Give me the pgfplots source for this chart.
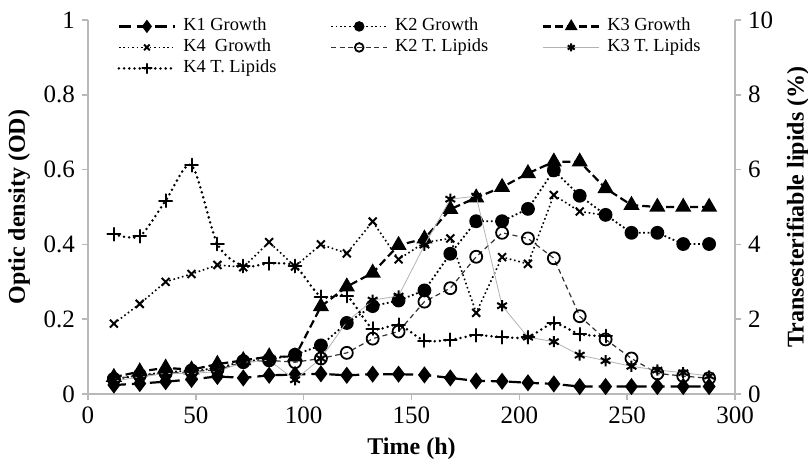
\documentclass[border=0pt]{standalone}
\usepackage{fontspec}
\setmainfont{Liberation Serif}
\usepackage{pgfplots}
\pgfplotsset{compat=1.18}

\newcommand{\tickfont}{\fontsize{12.5}{14}\selectfont}
\newcommand{\labfont}{\fontsize{12}{14}\selectfont\bfseries}
\newcommand{\legfont}{\fontsize{9.2}{11}\selectfont}

\pgfplotsset{
  base/.style={
    scale only axis, width=323.5pt, height=187pt,
    xmin=0, xmax=300,
    axis line style={gray!55, line width=0.8pt},
    tick style={gray!55, line width=0.8pt},
    tick align=outside, major tick length=3pt,
    tick label style={font=\tickfont, black},
    label style={font=\labfont},
    /pgf/number format/assume math mode=true,
    clip=false,
  },
  % growth series
  k1g/.style={black, line width=1.1pt, dash pattern=on 6pt off 3pt, mark=diamond*, mark size=3.4pt, mark options={solid}},
  k2g/.style={black, line width=0.9pt, dash pattern=on 0.9pt off 1.3pt, mark=*, mark size=3pt, mark options={solid}},
  k3g/.style={black, line width=1.1pt, dash pattern=on 4pt off 2pt, mark=triangle*, mark size=3.6pt, mark options={solid}},
  k4g/.style={black, line width=0.8pt, dash pattern=on 0.8pt off 1.4pt, mark=x, mark size=2.8pt, mark options={solid, line width=1pt}},
  % lipid series
  k2l/.style={black!80, line width=0.6pt, dash pattern=on 2.5pt off 1.8pt, mark=o, mark size=3pt, mark options={solid, black, line width=0.9pt}},
  k3l/.style={gray!60, line width=0.4pt, mark=asterisk, mark size=2.8pt, mark options={solid, black, line width=1pt}},
  k4l/.style={black, line width=1.4pt, dash pattern=on 0pt off 2.6pt, line cap=round, smooth, tension=0.45, mark=+, mark size=3.2pt, mark options={solid, line width=1pt}},
}

\begin{document}
\begin{tikzpicture}

\begin{axis}[base,
    axis x line*=bottom, axis y line*=left,
    ymin=0, ymax=1,
    ytick={0,0.2,0.4,0.6,0.8,1},
    xtick={0,50,100,150,200,250,300},
    xlabel={Time (h)},
    ylabel={Optic density (OD)},
]
\addplot[k1g] coordinates {(12,0.024) (24,0.028) (36,0.033) (48,0.039) (60,0.047) (72,0.043) (84,0.050) (96,0.052) (108,0.054) (120,0.050) (132,0.053) (144,0.053) (156,0.051) (168,0.043) (180,0.035) (192,0.034) (204,0.030) (216,0.027) (228,0.020) (240,0.020) (252,0.020) (264,0.020) (276,0.020) (288,0.020)};
\addplot[k2g] coordinates {(12,0.040) (24,0.050) (36,0.058) (48,0.063) (60,0.068) (72,0.088) (84,0.092) (96,0.105) (108,0.130) (120,0.190) (132,0.235) (144,0.250) (156,0.277) (168,0.375) (180,0.462) (192,0.462) (204,0.495) (216,0.598) (228,0.530) (240,0.479) (252,0.431) (264,0.431) (276,0.401) (288,0.401)};
\addplot[k3g] coordinates {(12,0.045) (24,0.060) (36,0.070) (48,0.065) (60,0.080) (72,0.090) (84,0.100) (96,0.100) (108,0.234) (120,0.287) (132,0.324) (144,0.398) (156,0.415) (168,0.494) (180,0.525) (192,0.553) (204,0.590) (216,0.621) (228,0.621) (240,0.550) (252,0.505) (264,0.500) (276,0.500) (288,0.500)};
\addplot[k4g] coordinates {(12,0.188) (24,0.241) (36,0.300) (48,0.321) (60,0.345) (72,0.339) (84,0.406) (96,0.341) (108,0.400) (120,0.376) (132,0.461) (144,0.360) (156,0.405) (168,0.416) (180,0.217) (192,0.366) (204,0.348) (216,0.532) (228,0.488) (240,0.478)};
\end{axis}

\begin{axis}[base,
    axis x line=none, axis y line*=right,
    ymin=0, ymax=10,
    ytick={0,2,4,6,8,10},
    ylabel={Transesterifiable lipids (\%)},
    legend columns=3,
    legend style={at={(axis description cs:0.045,1.012)}, anchor=north west,
      draw=none, fill=none, inner sep=0pt, font=\legfont, row sep=0pt,
      nodes={inner sep=1.5pt, text height=6pt, text depth=1.5pt},
      /tikz/every odd column/.append style={column sep=2pt}},
    legend image code/.code={\draw[mark repeat=2, mark phase=2, #1, every mark/.append style={scale=0.72}] plot coordinates {(0pt,0pt) (14pt,0pt) (28pt,0pt)};},
]
\addlegendimage{k1g}\addlegendentry{\makebox[72pt][l]{K1 Growth}}
\addlegendimage{k2g}\addlegendentry{\makebox[72pt][l]{K2 Growth}}
\addlegendimage{k3g}\addlegendentry{\makebox[72pt][l]{K3 Growth}}
\addlegendimage{k4g}\addlegendentry{\makebox[72pt][l]{K4\ \ Growth}}
\addplot[k2l] coordinates {(12,0.40) (24,0.50) (36,0.55) (48,0.60) (60,0.65) (72,0.85) (84,0.90) (96,0.85) (108,0.95) (120,1.10) (132,1.48) (144,1.67) (156,2.47) (168,2.83) (180,3.67) (192,4.31) (204,4.16) (216,3.63) (228,2.08) (240,1.46) (252,0.95) (264,0.55) (276,0.48) (288,0.42)};
\addlegendentry{\makebox[72pt][l]{K2 T. Lipids}}
\addplot[k3l] coordinates {(12,0.35) (24,0.45) (36,0.55) (48,0.55) (60,0.60) (72,0.85) (84,0.90) (96,0.38) (108,0.95) (120,1.93) (132,2.51) (144,2.62) (156,3.98) (168,5.21) (180,5.29) (192,2.36) (204,1.52) (216,1.40) (228,1.04) (240,0.89) (252,0.74) (264,0.64) (276,0.57) (288,0.48)};
\addlegendentry{\makebox[72pt][l]{K3 T. Lipids}}
\addplot[k4l] coordinates {(12,4.27) (24,4.22) (36,5.17) (48,6.12) (60,4.01) (72,3.42) (84,3.49) (96,3.42) (108,2.60) (120,2.62) (132,1.75) (144,1.85) (156,1.43) (168,1.45) (180,1.57) (192,1.52) (204,1.52) (216,1.89) (228,1.60) (240,1.55)};
\addlegendentry{\makebox[72pt][l]{K4 T. Lipids}}
\end{axis}

\pgfresetboundingbox
\path[use as bounding box] (-44pt,-37pt) rectangle (360pt,197pt);
\end{tikzpicture}
\end{document}
